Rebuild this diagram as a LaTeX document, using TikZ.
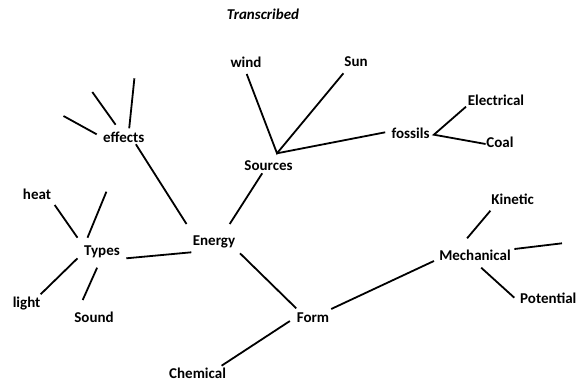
\documentclass[tikz,border=0pt]{standalone}
\usepackage{fontspec}
\setmainfont{Carlito}
\usetikzlibrary{calc}
\begin{document}
\begin{tikzpicture}[x=1pt,y=-1pt,line width=1.8pt,
    every node/.style={font=\fontsize{15}{18}\selectfont\bfseries,inner sep=0pt}]
    \useasboundingbox (0,0) rectangle (576,381);
    \node (title) at (263,14) {\itshape Transcribed};
    % labels
    \node (wind) at (246,62) {wind};
    \node (sun) at (356,62) {Sun};
    \node (electrical) at (496,100) {Electrical};
    \node (fossils) at (410.6,133) {fossils};
    \node (coal) at (500,142.7) {Coal};
    \node (effects) at (123.7,137.7) {effects};
    \node (sources) at (268.5,166) {Sources};
    \node (heat) at (37,194.7) {heat};
    \node (kinetic) at (512.6,199) {Kinetic};
    \node (energy) at (214,242.3) {Energy};
    \node (types) at (102,251.7) {Types};
    \node (mechanical) at (475,255.7) {Mechanical};
    \node (light) at (26.6,303.3) {light};
    \node (potential) at (548.3,298.3) {Potential};
    \node (sound) at (94,317.3) {Sound};
    \node (form) at (313,317.3) {Form};
    \node (chemical) at (197.6,373.3) {Chemical};
    % hubs and loose ends
    \coordinate (srchub) at ($(sources)+(8.5,-12.7)$);
    \coordinate (fosshub) at ($(fossils)+(23.3,1.7)$);
    \coordinate (eff1) at (63.5,116);
    \coordinate (eff2) at (92.3,92);
    \coordinate (eff3) at (134.4,78.3);
    \coordinate (typ1) at (106.4,191.7);
    \coordinate (mech1) at (562,243.3);
    % energy
    \draw ($(effects)+(12.2,6.6)$) -- ($(energy)+(-27.5,-18.3)$);
    \draw ($(sources)+(-6.3,7.3)$) -- ($(energy)+(15.7,-18.3)$);
    \draw ($(types)+(24.3,6.6)$) -- ($(energy)+(-22.7,10)$);
    \draw ($(energy)+(26,11)$) -- ($(form)+(-16.8,-9)$);
    % sources
    \draw ($(wind)+(0.7,12)$) -- (srchub) -- ($(sun)+(-12.6,11.3)$);
    \draw (srchub) -- ($(fossils)+(-25.4,-0.7)$);
    \draw ($(electrical)+(-30,6.7)$) -- (fosshub) -- ($(coal)+(-14.4,1.3)$);
    % effects
    \draw ($(effects)+(-27,-3.4)$) -- (eff1);
    \draw ($(effects)+(-8.1,-13)$) -- (eff2);
    \draw ($(effects)+(5.5,-9.4)$) -- (eff3);
    % types
    \draw ($(types)+(-24.5,-14)$) -- ($(heat)+(17.7,10.3)$);
    \draw ($(types)+(-14.5,-14)$) -- (typ1);
    \draw ($(types)+(-24.5,6.6)$) -- ($(light)+(14,-9)$);
    \draw ($(types)+(-4.9,16)$) -- ($(sound)+(-11.3,-17.3)$);
    % form
    \draw ($(form)+(-23.1,3.7)$) -- ($(chemical)+(24,-7.6)$);
    \draw ($(form)+(18.2,-8.3)$) -- ($(mechanical)+(-41.1,5.3)$);
    \draw ($(mechanical)+(-7.9,-17.4)$) -- ($(kinetic)+(-22.2,11.7)$);
    \draw ($(mechanical)+(6.2,12)$) -- ($(potential)+(-34,-0.6)$);
    \draw ($(mechanical)+(39.4,-6.7)$) -- (mech1);
\end{tikzpicture}
\end{document}
